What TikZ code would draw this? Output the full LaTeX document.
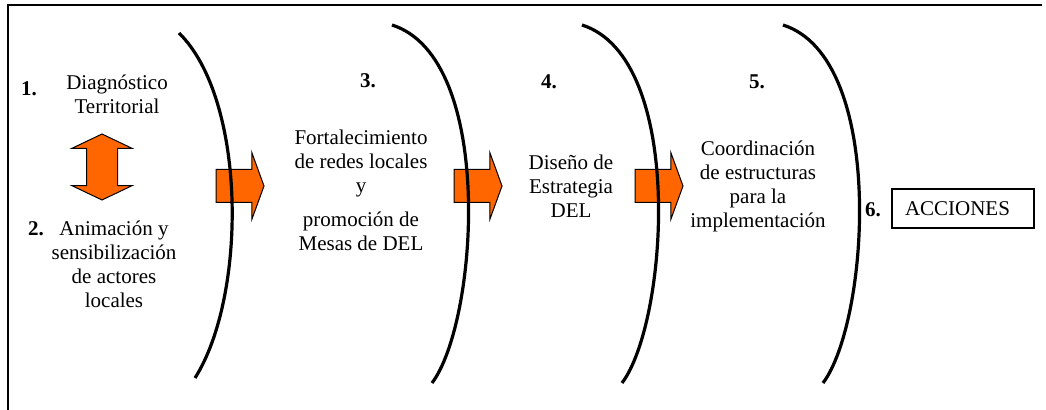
\documentclass[tikz,border=0pt]{standalone}
\usepackage{fontspec}
\setmainfont{Liberation Serif}
\usetikzlibrary{shapes.arrows}
\definecolor{stageorange}{HTML}{FF6600}
\tikzset{
  stage/.style={align=center, inner sep=0pt, font=\fontsize{10.5}{12}\selectfont},
  stagenum/.style={inner sep=0pt, font=\fontsize{10.5}{12}\selectfont\bfseries},
  stageline/.style={line width=1.6pt},
  stagebox/.style={draw, line width=0.8pt, minimum height=19.5pt, text width=58pt,
    inner xsep=6.5pt, align=left, font=\fontsize{10.5}{12}\selectfont},
  pusharrow/.style={single arrow, draw, fill=stageorange, line width=0.5pt,
    minimum height=24pt, inner xsep=0pt, inner ysep=8pt,
    single arrow head extend=8.5pt, single arrow tip angle=140},
  linkarrow/.style={double arrow, draw, fill=stageorange, line width=0.5pt,
    minimum height=33pt, inner xsep=0pt, inner ysep=7.5pt,
    double arrow head extend=7.25pt, double arrow tip angle=129, rotate=90}
}
\begin{document}
\begin{tikzpicture}[x=0.5pt,y=-0.5pt]
  \useasboundingbox (0,0) rectangle (1046,410);
  % Frame
  \draw[line width=1.2pt] (8,410) -- (8,5) -- (1042,5);
  % Arrows
  \foreach \x/\n in {237/1,475/2,656/3}
    \node[pusharrow] (push\n) at (\x,186) {};
  \node[linkarrow] (link) at (102,167) {};
  % Stage boundaries
  \draw[stageline] (179,33) .. controls (247,100) and (247,296) .. (195,378);
  \foreach \x in {392,582,783}
    \draw[stageline] (\x,25) .. controls ({\x+104},58) and ({\x+86},322) .. ({\x+40},383);
  % Stages
  \node[stagenum] (num1) at (29,89) {1.};
  \node[stage] (diag) at (117,94) {Diagnóstico\\Territorial};
  \node[stagenum] (num2) at (36,229) {2.};
  \node[stage] (anim) at (114,264) {Animación y\\sensibilización\\de actores\\locales};
  \node[stagenum] (num3) at (368,81) {3.};
  \node[stage] (redes) at (361,190) {Fortalecimiento\\de redes locales\\y\\[5pt]promoción de\\Mesas de DEL};
  \node[stagenum] (num4) at (549,82) {4.};
  \node[stage] (diseno) at (571,186) {Diseño de\\Estrategia\\DEL};
  \node[stagenum] (num5) at (757,82) {5.};
  \node[stage] (coord) at (758,186) {Coordinación\\de estructuras\\para la\\implementación};
  \node[stagenum] (num6) at (873,210) {6.};
  \node[stagebox] (acciones) at (963,208.5) {ACCIONES};
\end{tikzpicture}
\end{document}
